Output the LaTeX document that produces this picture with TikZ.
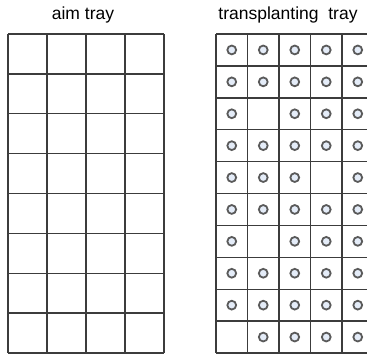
\documentclass[tikz,border=0pt]{standalone}
\usepackage{fontspec}
\setmainfont{Liberation Sans}
\usepackage{xcolor}
\definecolor{cgrille}{RGB}{60,60,60}
\definecolor{ctrou}{RGB}{228,236,248}
\definecolor{cbord}{RGB}{90,90,90}
\begin{document}
\begin{tikzpicture}[x=1pt, y=-1pt, font=\fontsize{17.5}{20}\selectfont]
\clip (0,0) rectangle (367,354);
\node[anchor=base] (titreA) at (83,19) {aim tray};
\node[anchor=base] (titreB) at (288,19) {transplanting\ \ tray};
% plateau cible : 4 x 8
\foreach \i in {0,...,4} \draw[cgrille,line width=1.4pt] (8+39*\i,34) -- (8+39*\i,353);
\foreach \j in {0,...,8} \draw[cgrille,line width=1.4pt] (8,34+39.875*\j) -- (164,34+39.875*\j);
% plateau de repiquage : 5 x 10
\foreach \i in {0,...,5} \draw[cgrille,line width=1.4pt] (216+31.5*\i,34) -- (216+31.5*\i,353);
\foreach \j in {0,...,10} \draw[cgrille,line width=1.4pt] (216,34+31.9*\j) -- (373.5,34+31.9*\j);
\foreach \r/\cols in {1/{1,2,3,4,5},2/{1,2,3,4,5},3/{1,3,4,5},4/{1,2,3,4,5},5/{1,2,3,5},
  6/{1,2,3,4,5},7/{1,3,4,5},8/{1,2,3,4,5},9/{1,2,3,4,5},10/{2,3,4,5}}
  \foreach \c in \cols
    \draw[cbord,fill=ctrou,line width=1.8pt] (216+31.5*\c-15.75,34+31.9*\r-15.95) circle[radius=4.4pt];
\end{tikzpicture}
\end{document}
